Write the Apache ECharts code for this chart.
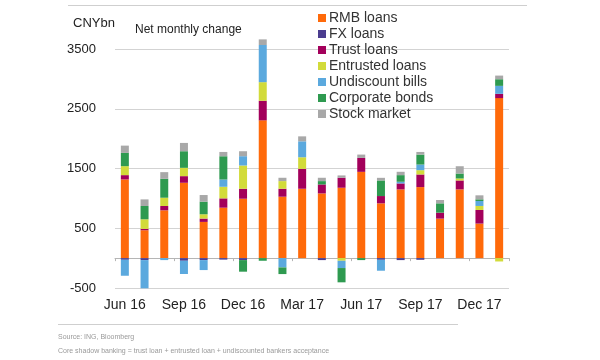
<!DOCTYPE html>
<html>
<head>
<meta charset="utf-8">
<script src="https://cdn.jsdelivr.net/npm/echarts@6/dist/echarts.min.js"></script>
<style>
html,body{margin:0;padding:0;background:#fff;}
#chart{width:600px;height:360px;}
</style>
</head>
<body>
<div id="chart"></div>
<script>
const categories = ['Jun 16','Jul 16','Aug 16','Sep 16','Oct 16','Nov 16','Dec 16','Jan 17','Feb 17','Mar 17','Apr 17','May 17','Jun 17','Jul 17','Aug 17','Sep 17','Oct 17','Nov 17','Dec 17','Jan 18'];
const rmbLoans     = [1317, 467, 800, 1261, 606, 844, 994, 2306, 1028, 1161, 1083, 1178, 1444, 917, 1150, 1189, 661, 1150, 578, 2678];
const fxLoans      = [-28, -33, 0, -44, -33, -25, -33, 0, 0, 0, -33, 0, 0, -28, -33, -28, 0, 0, 0, 0];
const trustLoans   = [72, 22, 72, 111, 56, 156, 167, 328, 133, 333, 150, 167, 233, 122, 100, 211, 100, 150, 228, 72];
const entrusted    = [150, 161, 139, 139, 72, 194, 389, 311, 128, 194, 0, -44, 0, 0, 0, 72, 0, 33, 67, -56];
const undiscount   = [-267, -472, -33, -222, -167, 122, 156, 622, -156, 267, 0, -122, 0, -183, 28, 94, 0, 0, 83, 133];
const corpBonds    = [222, 222, 317, 278, 211, 389, -194, -44, -111, 0, 56, -239, -33, 261, 111, 167, 156, 83, 28, 111];
const stockMarket  = [122, 111, 111, 139, 111, 72, 83, 94, 56, 83, 56, 39, 56, 44, 56, 44, 56, 122, 67, 61];
const seriesNames  = ['RMB loans','FX loans','Trust loans','Entrusted loans','Undiscount bills','Corporate bonds','Stock market'];
const seriesColors = ['#FF6A0A','#4B3D8F','#A3005B','#D2DB3A','#5BA9DE','#2E9A50','#A8A8A8'];
const yTicks = {min: -500, max: 3500, interval: 1000};

const FONT = 'Liberation Sans, Arial, sans-serif';
const seriesData = [rmbLoans, fxLoans, trustLoans, entrusted, undiscount, corpBonds, stockMarket];

const chart = echarts.init(document.getElementById('chart'), null, {renderer: 'canvas'});
chart.setOption({
  backgroundColor: '#ffffff',
  animation: false,
  textStyle: {fontFamily: FONT},
  title: [
    {text: 'CNYbn', left: 68, top: 12, textStyle: {fontSize: 13, fontWeight: 'normal', color: '#222', fontFamily: FONT}},
    {text: 'Net monthly change', left: 130, top: 19, textStyle: {fontSize: 12, fontWeight: 'normal', color: '#222', fontFamily: FONT}}
  ],
  legend: {
    orient: 'vertical',
    left: 318, top: 11,
    padding: 0,
    itemGap: 2,
    itemWidth: 8, itemHeight: 8,
    icon: 'rect',
    data: seriesNames,
    textStyle: {fontSize: 14, color: '#333', lineHeight: 14, fontFamily: FONT, padding: [0,0,0,-2]}
  },
  grid: {left: 115, right: 91, top: 49, bottom: 72, containLabel: false},
  xAxis: [
    {
      type: 'category', data: categories, position: 'bottom',
      axisLine: {onZero: true, lineStyle: {color: '#b5b5b5', width: 1}},
      axisTick: {show: true, interval: 2, length: 3, lineStyle: {color: '#b5b5b5'}},
      axisLabel: {show: false},
      splitLine: {show: false}
    },
    {
      type: 'category', data: categories, position: 'bottom',
      axisLine: {show: false, onZero: false},
      axisTick: {show: false},
      axisLabel: {show: true, interval: 2, margin: 10, fontSize: 14, color: '#222', fontFamily: FONT},
      splitLine: {show: false}
    }
  ],
  yAxis: {
    type: 'value', min: yTicks.min, max: yTicks.max, interval: yTicks.interval,
    axisLine: {show: false}, axisTick: {show: false},
    axisLabel: {fontSize: 13, color: '#222', margin: 19, fontFamily: FONT, formatter: v => String(v)},
    splitLine: {lineStyle: {color: '#d3d3d3', width: 1}}
  },
  series: seriesNames.map((name, i) => ({
    name: name,
    type: 'bar',
    stack: 'total',
    xAxisIndex: 0,
    barWidth: 8,
    clip: false,
    itemStyle: {color: seriesColors[i]},
    data: seriesData[i]
  })),
  graphic: [
    {type: 'line', shape: {x1: 68, y1: 5.5, x2: 527, y2: 5.5}, style: {stroke: '#cfcfcf', lineWidth: 1}},
    {type: 'line', shape: {x1: 58, y1: 324.5, x2: 458, y2: 324.5}, style: {stroke: '#cfcfcf', lineWidth: 1}},
    {type: 'text', left: 58, top: 334, style: {text: 'Source: ING, Bloomberg', fontSize: 7, fill: '#999', fontFamily: FONT}},
    {type: 'text', left: 58, top: 348, style: {text: 'Core shadow banking = trust loan + entrusted loan + undiscounted bankers acceptance', fontSize: 7, fill: '#999', fontFamily: FONT}}
  ]
});
</script>
</body>
</html>
